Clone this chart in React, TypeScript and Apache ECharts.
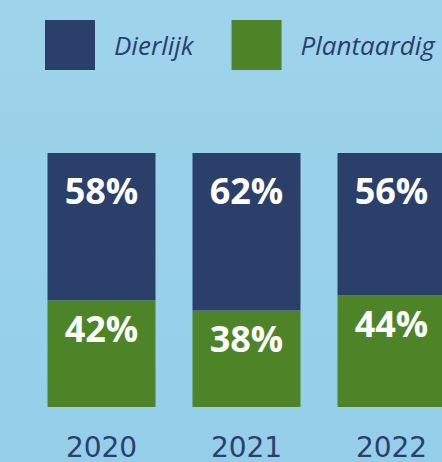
import React, { useEffect, useRef } from "react";
import * as echarts from "echarts";

const years = ["2020", "2021", "2022"];
const dierlijk = [58, 62, 56];
const plantaardig = [42, 38, 44];
const seriesNames = ["Dierlijk", "Plantaardig"];

const DARK = "#2b3f6b";
const GREEN = "#4e8428";

export default function App() {
  const ref = useRef<HTMLDivElement>(null);
  useEffect(() => {
    if (!ref.current) return;
    const chart = echarts.init(ref.current, undefined, { renderer: "svg" });
    const labelBase = {
      show: true,
      position: "insideTop" as const,
      color: "#ffffff",
      fontFamily: "Open Sans",
      fontWeight: "bold" as const,
      fontSize: 36,
      formatter: (p: any) => p.value + "%",
    };
    chart.setOption({
      animation: false,
      backgroundColor: {
        type: "linear",
        x: 0, y: 0, x2: 0, y2: 1,
        colorStops: [
          { offset: 0, color: "#9ed4eb" },
          { offset: 1, color: "#94cee9" },
        ],
      },
      legend: {
        data: seriesNames,
        left: 45,
        top: 20,
        padding: 0,
        itemWidth: 50,
        itemHeight: 50,
        itemGap: 38,
        icon: "rect",
        textStyle: {
          color: DARK,
          fontFamily: "Open Sans",
          fontStyle: "italic",
          fontSize: 26,
          padding: [0, 0, 0, 14],
        },
      },
      grid: { left: 29, right: 0, top: 153, bottom: 55 },
      xAxis: {
        type: "category",
        data: years,
        axisLine: { show: false },
        axisTick: { show: false },
        axisLabel: {
          color: DARK,
          fontFamily: "DejaVu Sans",
          fontSize: 28,
          margin: 26,
        },
      },
      yAxis: { type: "value", min: 0, max: 100, show: false, splitLine: { show: false } },
      series: [
        {
          name: "Plantaardig",
          type: "bar",
          stack: "total",
          data: plantaardig,
          barWidth: 108,
          itemStyle: { color: GREEN },
          label: { ...labelBase, distance: 10 },
        },
        {
          name: "Dierlijk",
          type: "bar",
          stack: "total",
          data: dierlijk,
          barWidth: 108,
          itemStyle: { color: DARK },
          label: { ...labelBase, distance: 19 },
        },
      ],
    });
    return () => chart.dispose();
  }, []);
  return (
    <div style={{ position: "fixed", left: 0, top: 0, width: 442, height: 462, overflow: "hidden" }}>
      <div ref={ref} style={{ position: "absolute", left: 0, top: 0, width: 464, height: 462 }} />
    </div>
  );
}
